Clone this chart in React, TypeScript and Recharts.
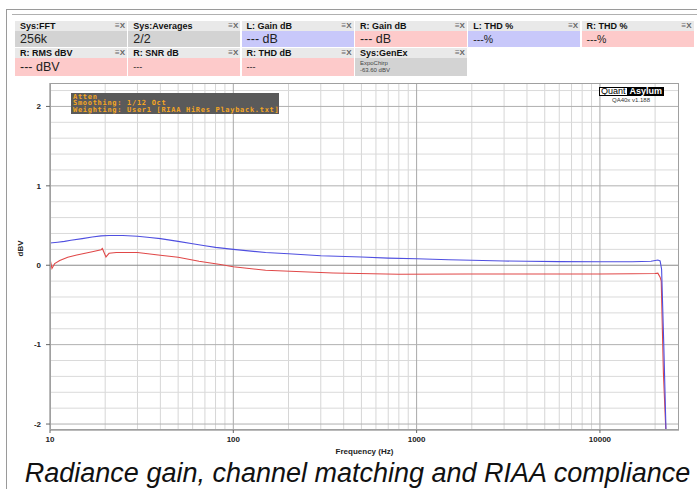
import React from 'react';
import { LineChart, Line, XAxis, YAxis, ReferenceLine } from 'recharts';

// ---- data ----
const leftFreq = [10, 11, 12, 13, 15, 17, 19, 21, 25, 30, 35, 40, 50, 60, 70, 80, 100, 150, 200, 300, 500, 700, 1000, 1500, 2000, 3000, 4000, 6000, 10000, 15000, 19000, 20700, 21300, 21700, 22300, 23000, 23500];
const leftDbv = [0.28, 0.29, 0.30, 0.315, 0.335, 0.355, 0.37, 0.375, 0.375, 0.365, 0.35, 0.335, 0.30, 0.27, 0.245, 0.225, 0.20, 0.16, 0.145, 0.12, 0.103, 0.09, 0.082, 0.07, 0.062, 0.053, 0.05, 0.046, 0.044, 0.044, 0.05, 0.065, 0.055, -0.05, -1.0, -2.2, -3.0];

const rightFreq = [10, 10.25, 10.6, 11.3, 12.5, 14, 17, 19, 19.3, 20.2, 21, 23, 30, 40, 50, 65, 85, 100, 150, 350, 800, 1900, 5000, 10000, 15000, 20000, 20700, 21300, 21600, 22200, 23000, 23500];
const rightDbv = [0.08, -0.04, 0.02, 0.06, 0.10, 0.13, 0.17, 0.195, 0.21, 0.105, 0.15, 0.16, 0.16, 0.126, 0.10, 0.05, 0.01, -0.02, -0.063, -0.097, -0.113, -0.11, -0.11, -0.11, -0.108, -0.105, -0.10, -0.15, -0.2, -1.36, -2.2, -3.0];

const xTicks = [10, 100, 1000, 10000];
const yTicks = [-2, -1, 0, 1, 2];
const xMinorGrid = [20, 30, 40, 50, 60, 70, 80, 90, 200, 300, 400, 500, 600, 700, 800, 900, 2000, 3000, 4000, 5000, 6000, 7000, 8000, 9000, 20000];
const yMinorGrid = [-1.8, -1.6, -1.4, -1.2, -0.8, -0.6, -0.4, -0.2, 0.2, 0.4, 0.6, 0.8, 1.2, 1.4, 1.6, 1.8, 2.2];

const panelTitlesRow1 = ['Sys:FFT', 'Sys:Averages', 'L: Gain dB', 'R: Gain dB', 'L: THD %', 'R: THD %'];
const panelValuesRow1 = ['256k', '2/2', '--- dB', '--- dB', '---%', '---%'];
const panelKindsRow1 = ['sys', 'sys', 'left', 'right', 'left', 'right'];
const panelTitlesRow2 = ['R: RMS dBV', 'R: SNR dB', 'R: THD dB', 'Sys:GenEx'];
const panelValuesRow2 = ['--- dBV', '---', '---', 'ExpoChirp\n-63.60 dBV'];
const panelKindsRow2 = ['right', 'right', 'right', 'sys'];

const leftData = leftFreq.map((f, i) => ({ f, v: leftDbv[i] }));
const rightData = rightFreq.map((f, i) => ({ f, v: rightDbv[i] }));

const kindColor: Record<string, string> = { sys: '#d3d3d3', left: '#c8c8fa', right: '#fdcaca' };

const PLOT_L = 50, PLOT_R = 679, PLOT_T = 83, PLOT_B = 430;

function valueSize(v: string) {
  if (v === '---') return 9;
  if (v === '---%') return 10.5;
  return 12.5;
}

function Panel({ x, y, title, value, kind, h }: { x: number; y: number; title: string; value: string; kind: string; h: number }) {
  const multi = value.includes('\n');
  return (
    <div style={{ position: 'absolute', left: x, top: y, width: 112, height: h + 10 }}>
      <div style={{ height: 10, background: '#e9e9e9', position: 'relative', fontFamily: 'Liberation Sans, Arial, sans-serif', fontWeight: 'bold', fontSize: 9, lineHeight: '10px', color: '#111', paddingLeft: 5 }}>
        {title}
        <span style={{ position: 'absolute', right: 2, top: 0, fontSize: 8, color: '#666', fontWeight: 'bold' }}>≡X</span>
      </div>
      <div style={{ height: h, background: kindColor[kind], fontFamily: 'Liberation Sans, Arial, sans-serif', color: '#222', paddingLeft: 5, boxSizing: 'border-box' }}>
        {multi ? (
          <div style={{ fontSize: 6, lineHeight: '6.5px', paddingTop: 2, color: '#444' }}>
            {value.split('\n').map((s, i) => (<div key={i}>{s}</div>))}
          </div>
        ) : (
          <div style={{ fontSize: valueSize(value), lineHeight: h + 'px' }}>{value}</div>
        )}
      </div>
    </div>
  );
}

export default function App() {
  const colW = 113.3;
  return (
    <div style={{ position: 'absolute', left: 0, top: 0, width: 697, height: 489, background: '#fff', overflow: 'hidden' }}>
      {/* outer frame lines */}
      <div style={{ position: 'absolute', left: 6, top: 9, width: 691, height: 1, background: '#9a9a9a' }} />
      <div style={{ position: 'absolute', left: 6, top: 9, width: 1, height: 480, background: '#9a9a9a' }} />
      <div style={{ position: 'absolute', left: 12, top: 14, width: 685, height: 1, background: '#b0b0b0' }} />

      {panelTitlesRow1.map((t, i) => (
        <Panel key={'r1' + i} x={15 + i * colW} y={21} title={t} value={panelValuesRow1[i]} kind={panelKindsRow1[i]} h={16} />
      ))}
      {panelTitlesRow2.map((t, i) => (
        <Panel key={'r2' + i} x={15 + i * colW} y={48} title={t} value={panelValuesRow2[i]} kind={panelKindsRow2[i]} h={18} />
      ))}

      <div style={{ position: 'absolute', left: 0, top: 0 }}>
        <LineChart width={697} height={489} margin={{ top: PLOT_T, right: 697 - PLOT_R, bottom: 489 - PLOT_B - 30, left: 0 }}>
          <XAxis
            dataKey="f"
            type="number"
            scale="log"
            domain={[10, 27000]}
            allowDataOverflow
            ticks={xTicks}
            height={30}
            tick={{ fontSize: 8, fontWeight: 'bold', fill: '#222', fontFamily: 'Liberation Sans, Arial, sans-serif' }}
            tickLine={{ stroke: '#666' }}
            tickSize={3}
            tickMargin={3}
            axisLine={{ stroke: '#777' }}
            label={{ value: 'Frequency (Hz)', position: 'insideBottom', offset: 6, fontSize: 8, fontWeight: 'bold', fill: '#222', fontFamily: 'Liberation Sans, Arial, sans-serif' }}
          />
          <YAxis
            type="number"
            domain={[-2.075, 2.295]}
            allowDataOverflow
            ticks={yTicks}
            width={50}
            tick={{ fontSize: 8, fontWeight: 'bold', fill: '#222', fontFamily: 'Liberation Sans, Arial, sans-serif' }}
            tickLine={{ stroke: '#666' }}
            tickSize={4}
            tickMargin={5}
            axisLine={{ stroke: '#777' }}
            label={{ value: 'dBV', angle: -90, position: 'insideLeft', offset: 20, fontSize: 8, fontWeight: 'bold', fill: '#222', fontFamily: 'Liberation Sans, Arial, sans-serif' }}
          />
          {xMinorGrid.map((v) => (
            <ReferenceLine key={'vx' + v} x={v} stroke="#d6d6d6" strokeWidth={1} />
          ))}
          {yMinorGrid.map((v) => (
            <ReferenceLine key={'hy' + v} y={v} stroke="#dadada" strokeWidth={1} />
          ))}
          {xTicks.slice(1).map((v) => (
            <ReferenceLine key={'VX' + v} x={v} stroke="#a8a8a8" strokeWidth={1} />
          ))}
          {yTicks.map((v) => (
            <ReferenceLine key={'HY' + v} y={v} stroke={v === 0 ? '#8a8a8a' : '#b0b0b0'} strokeWidth={1} />
          ))}
          <Line data={rightData} dataKey="v" type="linear" stroke="#e04848" strokeWidth={1.1} dot={false} isAnimationActive={false} />
          <Line data={leftData} dataKey="v" type="linear" stroke="#4f4fe0" strokeWidth={1.1} dot={false} isAnimationActive={false} />
        </LineChart>
      </div>

      {/* plot frame */}
      <div style={{ position: 'absolute', left: PLOT_L, top: PLOT_T, width: PLOT_R - PLOT_L, height: PLOT_B - PLOT_T, border: '1px solid #a0a0a0', boxSizing: 'border-box', pointerEvents: 'none' }} />

      {/* measurement settings box */}
      <div style={{ position: 'absolute', left: 71, top: 93, width: 208, height: 21, background: '#5a5a5a', color: '#f5a623', fontFamily: 'DejaVu Sans Mono, monospace', fontWeight: 'bold', fontSize: 7, lineHeight: '6.8px', letterSpacing: 0.7, paddingLeft: 2, paddingTop: 0.5, boxSizing: 'border-box', whiteSpace: 'pre' }}>
        <div>Atten</div>
        <div>Smoothing: 1/12 Oct</div>
        <div>Weighting: User1 [RIAA HiRes Playback.txt]</div>
      </div>

      {/* logo */}
      <div style={{ position: 'absolute', left: 599, top: 87, height: 9, display: 'flex', fontFamily: 'Liberation Sans, Arial, sans-serif', fontSize: 9, lineHeight: '9px' }}>
        <span style={{ background: '#fff', color: '#000', border: '1px solid #000', padding: '0 1px', lineHeight: '7px' }}>Quant</span>
        <span style={{ background: '#000', color: '#fff', padding: '0 2px', fontWeight: 'bold' }}>Asylum</span>
      </div>
      <div style={{ position: 'absolute', left: 600, top: 97, width: 62, textAlign: 'center', fontFamily: 'Liberation Sans, Arial, sans-serif', fontSize: 6, color: '#333' }}>QA40x v1.188</div>

      {/* caption */}
      <div style={{ position: 'absolute', left: 0, top: 457, width: 715, textAlign: 'center', fontFamily: 'Liberation Sans, Arial, sans-serif', fontStyle: 'italic', fontSize: 27, color: '#111', whiteSpace: 'nowrap', lineHeight: '32px' }}>
        Radiance gain, channel matching and RIAA compliance
      </div>
    </div>
  );
}
